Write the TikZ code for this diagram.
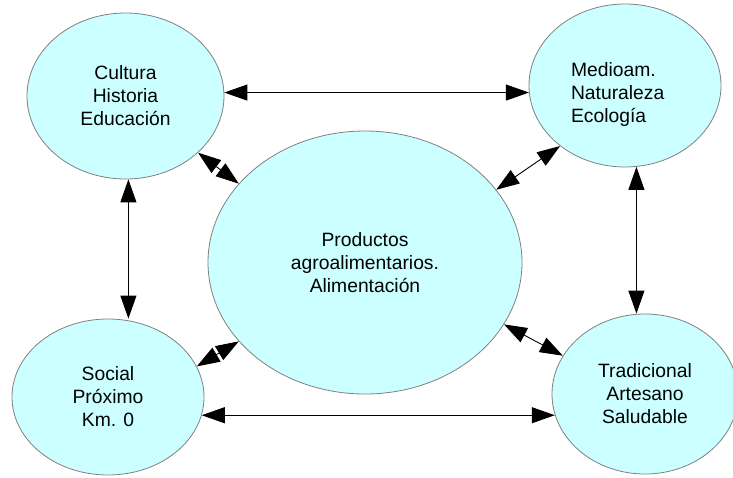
\documentclass[tikz,border=0pt]{standalone}
\usepackage{fontspec}
\setmainfont{Liberation Sans}
\usetikzlibrary{arrows.meta,shapes.geometric}
\definecolor{celeste}{HTML}{CCFFFF}

\begin{document}
\begin{tikzpicture}[x=1pt, y=-1pt, every node/.style={font=\fontsize{19.3}{23}\selectfont},
	area/.style={ellipse, draw=gray, line width=0.8pt, fill=celeste, inner sep=0pt, align=center},
	link/.style={<->, line width=0.9pt},
	>={Triangle[length=23pt, width=16pt]}]
	\useasboundingbox (0,0) rectangle (733,477);
	\node[area, minimum width=197pt, minimum height=166pt] (cul) at (125.5,96) {Cultura\\Historia\\Educación};
	\node[area, minimum width=192pt, minimum height=163pt, text width=108pt, align=left] (med) at (625,85.5) {\rule{0pt}{32pt}Medioam.\\Naturaleza\\Ecología};
	\node[area, minimum width=314pt, minimum height=263pt] (prod) at (365,262.5) {Productos\\agroalimentarios.\\Alimentación};
	\node[area, minimum width=192pt, minimum height=156pt] (soc) at (108,397) {Social\\Próximo\\Km. 0};
	\node[area, minimum width=186pt, minimum height=160pt] (tra) at (645,394) {Tradicional\\Artesano\\Saludable};
	% outer ring
	\draw[link] (cul.2) -- (cul.2 -| med.184);
	\draw[link] (soc.349) -- (soc.349 -| tra.193);
	\draw[link] (cul.272) -- (cul.272 |- soc.north);
	\draw[link] (med.278) -- (med.278 |- tra.north);
	% spokes to the centre
	\foreach \a/\b in {cul.322/prod.148, med.223/prod.29, soc.19/prod.212, tra.155/prod.336} {\draw[link] (\a) -- (\b);}
\end{tikzpicture}
\end{document}
